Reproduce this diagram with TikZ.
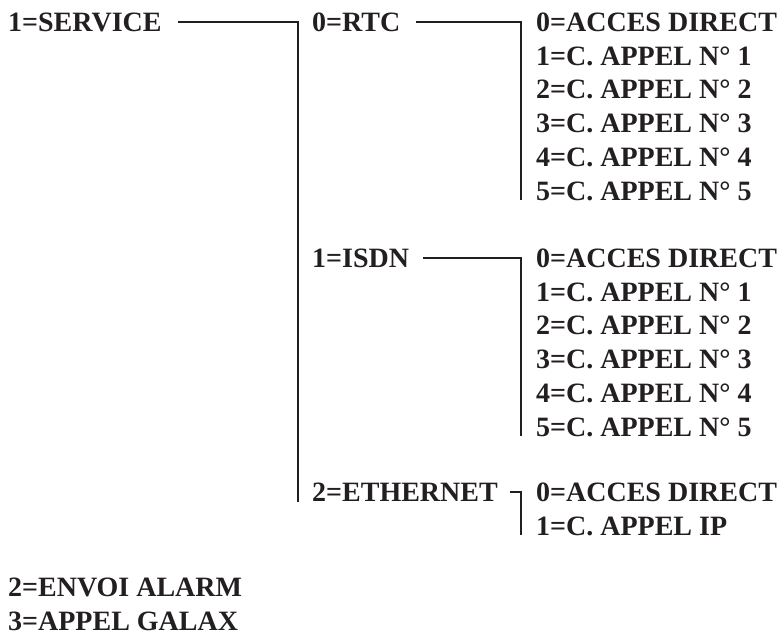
\documentclass[tikz,border=0pt]{standalone}
\usepackage{fontspec}
\setmainfont{Liberation Serif}
\usepackage{tikz}
\usetikzlibrary{positioning}
\definecolor{ink}{HTML}{231F20}

\begin{document}
\begin{tikzpicture}[x=1pt, y=-1pt, node distance=14.3pt,
        font=\fontsize{28}{33}\selectfont\bfseries]
    \tikzset{
        entry/.style={anchor=west, inner sep=0pt, text height=19pt,
                      text depth=0pt, text=ink},
        wire/.style={draw=ink, line width=1.6pt}
    }
    \useasboundingbox (0,0) rectangle (782,637);
    % level 1
    \node[entry] (service) at (8,22)  {1=SERVICE};
    \node[entry] (envoi)   at (8,587) {2=ENVOI ALARM};
    \node[entry, below=of envoi.south west, anchor=north west] (galax) {3=APPEL GALAX};
    % level 2
    \node[entry] (rtc)  at (312,22)  {0=RTC};
    \node[entry] (isdn) at (312,258) {1=ISDN};
    \node[entry] (eth)  at (312,492) {2=ETHERNET};
    % RTC
    \node[entry] (rtc0) at (536,22) {0=ACCES DIRECT};
    \node[entry, below=of rtc0.south west, anchor=north west] (rtc1) {1=C. APPEL N° 1};
    \node[entry, below=of rtc1.south west, anchor=north west] (rtc2) {2=C. APPEL N° 2};
    \node[entry, below=of rtc2.south west, anchor=north west] (rtc3) {3=C. APPEL N° 3};
    \node[entry, below=of rtc3.south west, anchor=north west] (rtc4) {4=C. APPEL N° 4};
    \node[entry, below=of rtc4.south west, anchor=north west] (rtc5) {5=C. APPEL N° 5};
    % ISDN
    \node[entry] (isdn0) at (536,258) {0=ACCES DIRECT};
    \node[entry, below=of isdn0.south west, anchor=north west] (isdn1) {1=C. APPEL N° 1};
    \node[entry, below=of isdn1.south west, anchor=north west] (isdn2) {2=C. APPEL N° 2};
    \node[entry, below=of isdn2.south west, anchor=north west] (isdn3) {3=C. APPEL N° 3};
    \node[entry, below=of isdn3.south west, anchor=north west] (isdn4) {4=C. APPEL N° 4};
    \node[entry, below=of isdn4.south west, anchor=north west] (isdn5) {5=C. APPEL N° 5};
    % ETHERNET
    \node[entry] (eth0) at (536,492) {0=ACCES DIRECT};
    \node[entry, below=of eth0.south west, anchor=north west] (eth1) {1=C. APPEL IP};
    % brackets
    \draw[wire] ([xshift=16pt]service.east) -| ([xshift=-14pt]eth.south west);
    \draw[wire] ([xshift=16pt]rtc.east) -| ([xshift=-15pt]rtc5.south west);
    \draw[wire] ([xshift=14pt]isdn.east) -| ([xshift=-15pt]isdn5.south west);
    \draw[wire] ([xshift=12pt]eth.east) -| ([xshift=-15pt]eth1.south west);
\end{tikzpicture}
\end{document}
